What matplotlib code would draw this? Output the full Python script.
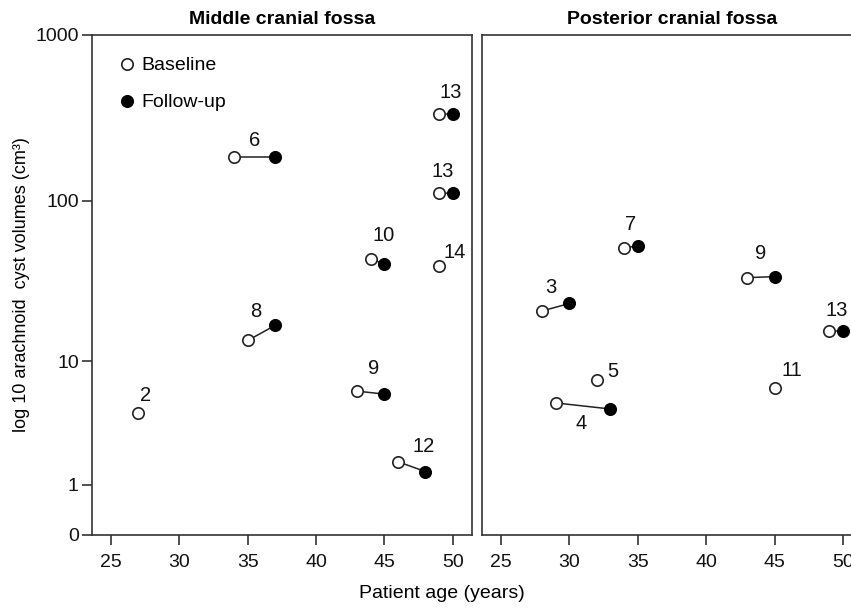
import numpy as np
import matplotlib
matplotlib.use("Agg")
import matplotlib.pyplot as plt
from matplotlib.lines import Line2D

plt.rcParams['font.family'] = ['Liberation Sans', 'DejaVu Sans']

# ---------------- data ----------------
nan = np.nan
mid_ids = [13, 6, 13, 10, 14, 8, 2, 9, 12]
mid_age_base = [49, 34, 49, 44, 49, 35, 27, 43, 46]
mid_vol_base = [335, 185, 112, 44.3, 40.1, 13.7, 4.4, 6.3, 1.75]
mid_age_fu = [50, 37, 50, 45, nan, 37, nan, 45, 48]
mid_vol_fu = [335, 185, 111, 41.3, nan, 17.1, nan, 6.0, 1.4]
mid_label_off = [(12, 21), (20, 16), (4, 21), (13, 23), (16, 14), (8, 29), (7, 17), (16, 23), (25, 15)]

post_ids = [7, 9, 3, 13, 5, 4, 11]
post_age_base = [34, 43, 28, 49, 32, 29, 45]
post_vol_base = [51.9, 34.0, 21.1, 15.7, 7.5, 5.2, 6.6]
post_age_fu = [35, 45, 30, 50, nan, 33, nan]
post_vol_fu = [53.2, 34.5, 23.5, 15.7, nan, 4.7, nan]
post_label_off = [(6, 23), (13, 24), (9, 23), (8, 21), (16, 9), (25, -21), (17, 18)]

titles = ["Middle cranial fossa", "Posterior cranial fossa"]
y_ticks = [0, 1, 10, 100, 1000]
x_ticks = [25, 30, 35, 40, 45, 50]
ylabel = "log 10 arachnoid  cyst volumes (cm\u00b3)"
xlabel = "Patient age (years)"

# ---------------- figure ----------------
fig = plt.figure(figsize=(8.51, 6.08), dpi=100)
ax1 = fig.add_axes([0.1081, 0.1201, 0.4465, 0.8224])
ax2 = fig.add_axes([0.5664, 0.1201, 0.4465, 0.8224])

# y axis is log10(volume + 1), labelled with raw volumes
fwd = lambda v: np.log10(np.maximum(v, 0) + 1)
inv = lambda t: 10 ** t - 1

MS = 8.2

def draw(ax, ids, ab, vb, af, vf, offs, title):
    ax.set_yscale('function', functions=(fwd, inv))
    ax.set_ylim(0, 1000)
    ax.set_xlim(23.6, 51.4)
    for i in range(len(ids)):
        if not np.isnan(af[i]):
            ax.plot([ab[i], af[i]], [vb[i], vf[i]], color='#222222', lw=1.1, zorder=2)
    ax.plot(af, vf, 'o', ms=MS, mfc='black', mec='black', mew=1.2, ls='none', zorder=3)
    ax.plot(ab, vb, 'o', ms=MS, mfc='white', mec='#222222', mew=1.2, ls='none', zorder=4)
    for i in range(len(ids)):
        ax.annotate(str(ids[i]), (ab[i], vb[i]), xytext=offs[i], textcoords='offset pixels',
                    ha='center', va='center', fontsize=14.5, color='#111111')
    ax.set_xticks(x_ticks)
    ax.set_xticklabels([str(t) for t in x_ticks], fontsize=14)
    ax.tick_params(axis='x', direction='out', length=7, width=1.1, pad=7, colors='#222222',
                   labelcolor='#111111')
    ax.minorticks_off()
    for s in ax.spines.values():
        s.set_linewidth(1.2)
        s.set_color('#333333')
    ax.set_title(title, fontsize=14, fontweight='bold', pad=8)

draw(ax1, mid_ids, mid_age_base, mid_vol_base, mid_age_fu, mid_vol_fu, mid_label_off, titles[0])
draw(ax2, post_ids, post_age_base, post_vol_base, post_age_fu, post_vol_fu, post_label_off, titles[1])

ax1.set_yticks(y_ticks)
ax1.set_yticklabels([str(t) for t in y_ticks], fontsize=14)
ax1.tick_params(axis='y', direction='out', length=7, width=1.1, pad=2.5, colors='#222222',
                labelcolor='#111111')
ax1.minorticks_off()
ax1.set_ylabel(ylabel, fontsize=13, labelpad=4)

ax2.set_yticks([])
ax2.minorticks_off()

handles = [Line2D([], [], marker='o', ls='none', ms=MS, mfc='white', mec='#222222', mew=1.2),
           Line2D([], [], marker='o', ls='none', ms=MS, mfc='black', mec='black', mew=1.2)]
ax1.legend(handles, ['Baseline', 'Follow-up'], loc='upper left', bbox_to_anchor=(0.051, 0.972),
           borderaxespad=0, frameon=False, fontsize=14, handlelength=0.8, handletextpad=0.35,
           labelspacing=1.0, borderpad=0.4)

fig.text(442 / 851, 1 - 593 / 608, xlabel, ha='center', va='center', fontsize=14)

fig.savefig("out.png", dpi=100)
